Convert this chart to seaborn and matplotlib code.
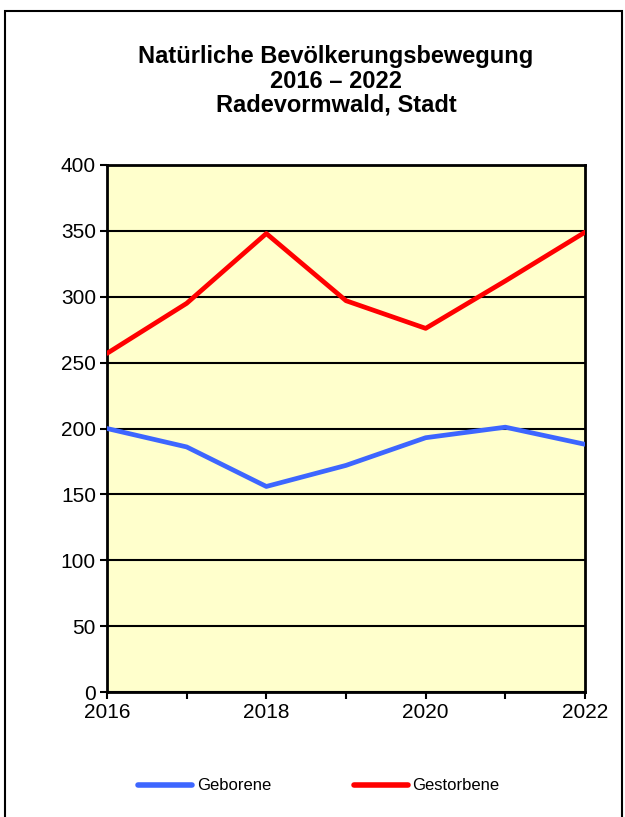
import pandas as pd
import matplotlib
matplotlib.use("Agg")
import matplotlib.pyplot as plt
import seaborn as sns
from matplotlib.patches import Rectangle

jahre = [2016, 2017, 2018, 2019, 2020, 2021, 2022]
geborene = [200, 186, 156, 172, 193, 201, 188]
gestorbene = [257, 295, 348, 297, 276, 312, 349]
reihen = ["Geborene", "Gestorbene"]
y_ticks = [0, 50, 100, 150, 200, 250, 300, 350, 400]
x_ticks = [2016, 2018, 2020, 2022]

df = pd.DataFrame({
    "Jahr": jahre * 2,
    "Wert": geborene + gestorbene,
    "Reihe": [reihen[0]] * len(jahre) + [reihen[1]] * len(jahre),
})

sns.set_style("white")
plt.rcParams["font.family"] = ["Liberation Sans", "DejaVu Sans"]
plt.rcParams["text.color"] = "black"
plt.rcParams["xtick.color"] = "black"
plt.rcParams["ytick.color"] = "black"

fig = plt.figure(figsize=(6.25, 8.17), dpi=100)
ax = fig.add_axes([107 / 625, 1 - 692 / 817, 478 / 625, 527 / 817])

# Rahmen um das ganze Diagramm
fig.patches.append(Rectangle((5 / 625, -0.05), 617 / 625, 1.05 - 11 / 817,
                             transform=fig.transFigure, fill=False,
                             edgecolor="black", linewidth=1.5))

ax.set_facecolor("#FFFFCC")
sns.lineplot(data=df, x="Jahr", y="Wert", hue="Reihe",
             palette=["#3D66FF", "#FF0000"], linewidth=3.4, ax=ax,
             legend=False, zorder=3)

ax.set_xlim(2016, 2022)
ax.set_ylim(0, 400)
ax.set_yticks(y_ticks)
ax.set_xticks(jahre)
ax.set_xticklabels([str(j) if j in x_ticks else "" for j in jahre])
ax.yaxis.grid(True, color="black", linewidth=1.5)
ax.xaxis.grid(False)
for s in ax.spines.values():
    s.set_color("black")
    s.set_linewidth(2)
ax.tick_params(axis="both", direction="out", length=5, width=1.5,
               labelsize=15, color="black", labelcolor="black", pad=3,
               bottom=True, left=True)
ax.set_xlabel("")
ax.set_ylabel("")

fig.text(336 / 625, 1 - 81 / 817,
         "Natürliche Bevölkerungsbewegung\n2016 – 2022\nRadevormwald, Stadt",
         ha="center", va="center", fontsize=17, fontweight="bold",
         linespacing=1.08, color="black")

handles = [plt.Line2D([], [], color=c, linewidth=4, solid_capstyle="round")
           for c in ["#3D66FF", "#FF0000"]]
fig.legend(handles, reihen, loc="center", bbox_to_anchor=(319 / 625, 1 - 786 / 817),
           ncol=2, frameon=False, fontsize=12, handlelength=3.2,
           handletextpad=0.3, columnspacing=5.0)

fig.savefig("out.png", dpi=100)
